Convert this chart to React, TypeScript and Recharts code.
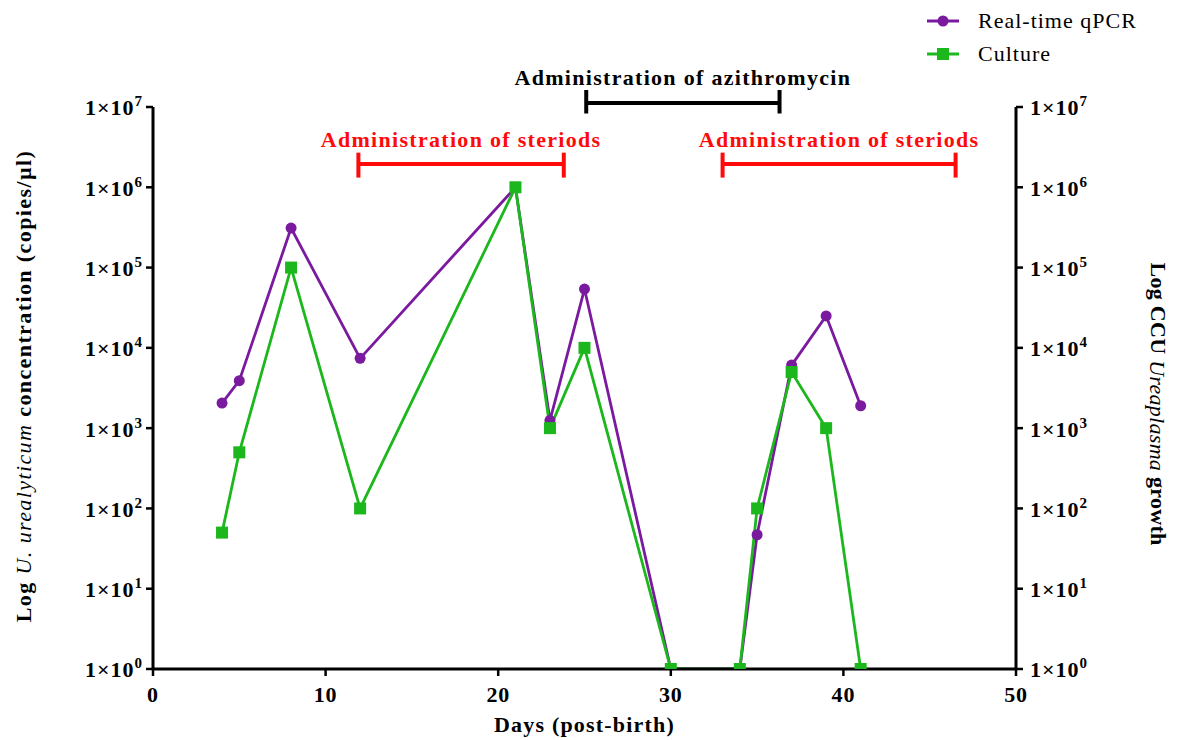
import React from "react";
import {
  LineChart,
  Line,
  XAxis,
  YAxis,
  Legend,
  ReferenceLine,
  Label,
} from "recharts";

const days = [4, 5, 8, 12, 21, 23, 25, 30, 34, 35, 37, 39, 41];
const qpcrValues = [2050, 3900, 310000, 7400, 1000000, 1250, 54000, 1, 1, 47, 6100, 25000, 1900];
const cultureValues = [50, 500, 100000, 100, 1000000, 1000, 10000, 1, 1, 100, 5000, 1000, 1];

const xTicks = [0, 10, 20, 30, 40, 50];
const yTicks = [1, 10, 100, 1000, 10000, 100000, 1000000, 10000000];

// treatment periods: [start day, end day, bar level, cap low, cap high]
const steroidPeriods = [
  { start: 11.9, end: 23.8, level: 1.95e6, capLow: 1.32e6, capHigh: 2.7e6 },
  { start: 33.0, end: 46.5, level: 1.95e6, capLow: 1.32e6, capHigh: 2.7e6 },
];
const azithroPeriod = { start: 25.1, end: 36.3, level: 1.12e7, capLow: 8.3e6, capHigh: 1.63e7 };

const chartData = days.map((d, i) => ({
  day: d,
  qpcr: qpcrValues[i],
  culture: cultureValues[i],
}));

const FONT = '"Liberation Serif", "Times New Roman", serif';
const PURPLE = "#7a1a9e";
const GREEN = "#1cb71c";
const RED = "#ff0a0a";

const PowerTick = (props: any) => {
  const { x, y, payload, side } = props;
  const exp = Math.round(Math.log10(payload.value));
  const left = side === "left";
  return (
    <text
      x={x + (left ? -1 : 5)}
      y={y}
      dy="0.38em"
      textAnchor={left ? "end" : "start"}
      fontFamily={FONT}
      fontWeight="bold"
      fontSize={22}
      letterSpacing={1}
      fill="#000"
    >
      1×10
      <tspan dy={-9} fontSize={15}>
        {exp}
      </tspan>
    </text>
  );
};

const DayTick = (props: any) => {
  const { x, y, payload } = props;
  return (
    <text x={x} y={y + 24} textAnchor="middle" fontFamily={FONT} fontWeight="bold" fontSize={22} letterSpacing={0.8} fill="#000">
      {payload.value}
    </text>
  );
};

const LeftTitle = (props: any) => {
  const { viewBox } = props;
  const cx = 23;
  const cy = viewBox.y + viewBox.height / 2 - 2;
  return (
    <text
      x={cx}
      y={cy}
      transform={`rotate(-90 ${cx} ${cy})`}
      textAnchor="middle"
      dominantBaseline="central"
      fontFamily={FONT}
      fontWeight="bold"
      fontSize={22}
      letterSpacing={1.4}
      fill="#000"
    >
      Log <tspan fontStyle="italic" fontWeight="normal">U. urealyticum</tspan> concentration (copies/µl)
    </text>
  );
};

const RightTitle = (props: any) => {
  const { viewBox } = props;
  const cx = 1158;
  const cy = viewBox.y + viewBox.height / 2 + 16;
  return (
    <text
      x={cx}
      y={cy}
      transform={`rotate(90 ${cx} ${cy})`}
      textAnchor="middle"
      dominantBaseline="central"
      fontFamily={FONT}
      fontWeight="bold"
      fontSize={22}
      letterSpacing={0.3}
      fill="#000"
    >
      Log CCU <tspan fontStyle="italic" fontWeight="normal">Ureaplasma</tspan> growth
    </text>
  );
};

const SquareDot = (props: any) => {
  const { cx, cy, index } = props;
  if (cx == null || cy == null) return null;
  return <rect key={`sq-${index}`} x={cx - 6} y={cy - 6} width={12} height={12} fill={GREEN} />;
};

const legendOrder = ["qpcr", "culture"];

const renderLegend = (props: any) => {
  const payload = [...(props.payload || [])].sort(
    (a: any, b: any) => legendOrder.indexOf(a.dataKey) - legendOrder.indexOf(b.dataKey)
  );
  return (
    <div style={{ fontFamily: FONT, fontSize: 22, letterSpacing: 1 }}>
      {payload.map((entry: any) => (
        <div key={entry.value} style={{ display: "flex", alignItems: "center", height: 33 }}>
          <svg width={40} height={16} style={{ marginRight: 13 }}>
            <line x1={2} y1={8} x2={34} y2={8} stroke={entry.color} strokeWidth={3} />
            {entry.dataKey === "qpcr" ? (
              <circle cx={18} cy={8} r={5.5} fill={entry.color} />
            ) : (
              <rect x={12} y={2} width={12} height={12} fill={entry.color} />
            )}
          </svg>
          <span style={{ color: "#000" }}>{entry.value}</span>
        </div>
      ))}
    </div>
  );
};

const Bracket = (p: { start: number; end: number; level: number; capLow: number; capHigh: number }, color: string, text: string, key: string, offset: number) => [
  <ReferenceLine
    key={`${key}-bar`}
    yAxisId="left"
    segment={[
      { x: p.start, y: p.level },
      { x: p.end, y: p.level },
    ]}
    stroke={color}
    strokeWidth={4}
    ifOverflow="visible"
  >
    <Label value={text} position="top" offset={offset} fill={color} fontFamily={FONT} fontWeight="bold" fontSize={22} letterSpacing={1.3} />
  </ReferenceLine>,
  <ReferenceLine
    key={`${key}-c1`}
    yAxisId="left"
    segment={[
      { x: p.start, y: p.capLow },
      { x: p.start, y: p.capHigh },
    ]}
    stroke={color}
    strokeWidth={4}
    ifOverflow="visible"
  />,
  <ReferenceLine
    key={`${key}-c2`}
    yAxisId="left"
    segment={[
      { x: p.end, y: p.capLow },
      { x: p.end, y: p.capHigh },
    ]}
    stroke={color}
    strokeWidth={4}
    ifOverflow="visible"
  />,
];

export default function App() {
  return (
    <div style={{ position: "absolute", left: 0, top: 0, background: "#fff" }}>
      <LineChart width={1183} height={740} data={chartData} margin={{ top: 107, right: 0, bottom: 0, left: 0 }}>
        <XAxis
          dataKey="day"
          type="number"
          domain={[0, 50]}
          ticks={xTicks}
          height={71}
          tickSize={7}
          tickLine={{ stroke: "#000", strokeWidth: 2.5 }}
          axisLine={{ stroke: "#000", strokeWidth: 3 }}
          tick={<DayTick />}
        >
          <Label
            value="Days (post-birth)"
            position="insideBottom"
            offset={8}
            fill="#000"
            fontFamily={FONT}
            fontWeight="bold"
            fontSize={22}
            letterSpacing={1.2}
          />
        </XAxis>
        <YAxis
          yAxisId="left"
          scale="log"
          domain={[1, 10000000]}
          ticks={yTicks}
          allowDataOverflow
          width={153}
          tickSize={7}
          tickLine={{ stroke: "#000", strokeWidth: 2.5 }}
          axisLine={{ stroke: "#000", strokeWidth: 3 }}
          tick={<PowerTick side="left" />}
          interval={0}
        >
          <Label content={<LeftTitle />} />
        </YAxis>
        <YAxis
          yAxisId="right"
          orientation="right"
          scale="log"
          domain={[1, 10000000]}
          ticks={yTicks}
          allowDataOverflow
          width={167}
          tickSize={7}
          tickLine={{ stroke: "#000", strokeWidth: 2.5 }}
          axisLine={{ stroke: "#000", strokeWidth: 3 }}
          tick={<PowerTick side="right" />}
          interval={0}
        >
          <Label content={<RightTitle />} />
        </YAxis>
        <Legend
          layout="vertical"
          align="center"
          verticalAlign="middle"
          content={renderLegend}
          wrapperStyle={{ left: 925, top: 4, width: 255 }}
        />
        {Bracket(azithroPeriod, "#000", "Administration of azithromycin", "azi", 18)}
        {steroidPeriods.map((p, i) => Bracket(p, RED, "Administration of steriods", `ster${i}`, 17))}
        <Line
          yAxisId="left"
          dataKey="qpcr"
          name="Real-time qPCR"
          stroke={PURPLE}
          strokeWidth={2.8}
          dot={{ r: 5.5, fill: PURPLE, stroke: PURPLE, strokeWidth: 0 }}
          isAnimationActive={false}
        />
        <Line
          yAxisId="left"
          dataKey="culture"
          name="Culture"
          stroke={GREEN}
          strokeWidth={2.8}
          dot={<SquareDot />}
          isAnimationActive={false}
        />
      </LineChart>
    </div>
  );
}
